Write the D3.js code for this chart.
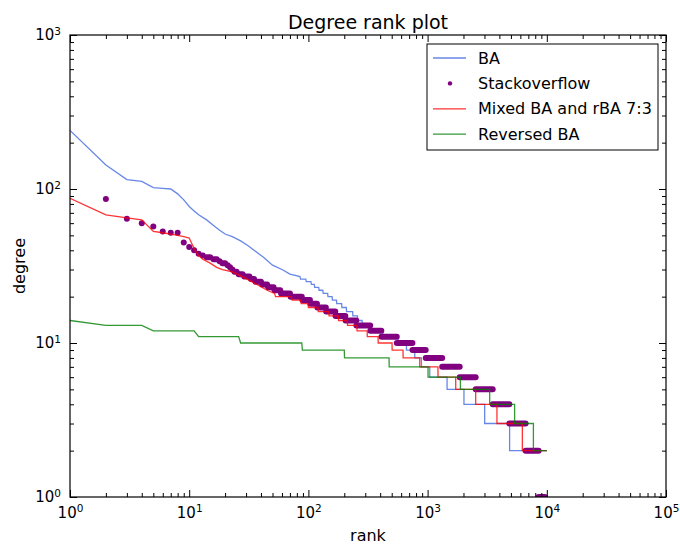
<!DOCTYPE html>
<html>
<head>
<meta charset="utf-8">
<script src="https://cdn.jsdelivr.net/npm/d3@7"></script>
<style>
  body { margin: 0; background: #fff; }
  svg { display: block; font-family: "DejaVu Sans", sans-serif; }
</style>
</head>
<body>
<svg id="canvas" width="680" height="546"></svg>
<script>
// BA: curved head then one step per integer degree
const baHeadRank = [1, 2, 3, 4, 5, 6, 7, 8, 9, 10, 11, 12, 14, 16, 18, 20, 23, 27, 31, 35, 42, 50, 60, 70, 85];
const baHeadDeg = [240, 143, 115, 112, 102, 101, 100, 93, 85, 77, 72, 68, 63, 58, 54, 51, 49, 46, 43, 40, 36, 32, 30, 28, 27];
const baStepDeg = [26, 25, 24, 23, 22, 21, 20, 19, 18, 17, 16, 15, 14, 13, 12, 11, 10, 9, 8, 7, 6, 5, 4, 3, 2];
const baStepEnd = [95, 105, 112, 122, 132, 145, 158, 172, 190, 208, 235, 258, 282, 320, 420, 565, 664, 780, 887, 1042, 1456, 2018, 3011, 4876, 10000];

// Mixed BA and rBA 7:3
const mixHeadRank = [1, 2, 3, 4, 5, 6, 7, 8, 9, 10, 11, 12, 13, 15, 17, 19, 23, 28, 37, 45, 52];
const mixHeadDeg = [87, 68, 65, 63, 53, 52, 51, 50, 49, 48, 41, 37, 35, 33, 31, 30, 29, 27, 24, 22, 21];
const mixStepDeg = [20, 19, 18, 17, 16, 15, 14, 13, 12, 11, 10, 9, 8, 7, 6, 5, 4, 3, 2];
const mixStepEnd = [72, 86, 99, 120, 148, 178, 212, 255, 311, 384, 503, 622, 859, 1222, 1721, 2531, 3817, 6236, 10000];

// Reversed BA
const revStepDeg = [14, 13, 12, 11, 10, 9, 8, 7, 6, 5, 4, 3, 2];
const revStepEnd = [1, 4, 11, 26, 88, 200, 475, 1008, 1884, 3317, 5370, 7720, 10000];

// Stackoverflow: runs of equal degree, first run starts at rank 2
const soDeg = [86, 64, 60, 57, 53, 52, 52, 45, 42, 40, 38, 37, 36, 35, 34, 33, 32, 31, 30, 29,
  28, 27, 26, 25, 24, 23, 22, 21, 20, 19, 18, 17, 16, 15, 14, 13, 12, 11, 10, 9,
  8, 7, 6, 5, 4, 3, 2, 1];
const soEnd = [2, 3, 4, 5, 6, 7, 8, 9, 10, 11, 12, 13, 15, 17, 18, 20, 21, 22, 23, 25,
  28, 32, 35, 40, 45, 51, 58, 70, 88, 103, 118, 140, 168, 204, 252, 330, 409, 551, 746, 964,
  1325, 1858, 2530, 3516, 4850, 6638, 8536, 9640];
const soStart = 2;

const legendNames = ["BA", "Stackoverflow", "Mixed BA and rBA 7:3", "Reversed BA"];
const xTickExp = [0, 1, 2, 3, 4, 5];
const yTickExp = [0, 1, 2, 3];

const margin = { left: 70, right: 666, top: 35, bottom: 497 };

const canvas = d3.select("#canvas");

const x = d3.scaleLog().domain([1, 1e5]).range([margin.left, margin.right]);
const y = d3.scaleLog().domain([1, 1e3]).range([margin.bottom, margin.top]);

const stepPoints = (headRank, headDeg, stepDeg, stepEnd) => {
  const pts = headRank.map((r, i) => [r, headDeg[i]]);
  let start = headRank.length ? headRank[headRank.length - 1] + 1 : 1;
  stepDeg.forEach((d, i) => {
    pts.push([start, d]);
    pts.push([stepEnd[i], d]);
    start = stepEnd[i] + 1;
  });
  return pts;
};

const line = d3.line()
  .x((p) => x(p[0]))
  .y((p) => y(p[1]));

canvas.append("rect").attr("width", 680).attr("height", 546).attr("fill", "#fff");

canvas.append("clipPath").attr("id", "plotclip")
  .append("rect")
  .attr("x", margin.left).attr("y", margin.top)
  .attr("width", margin.right - margin.left)
  .attr("height", margin.bottom - margin.top);

const plot = canvas.append("g").attr("clip-path", "url(#plotclip)");

const drawLine = (pts, color) => {
  plot.append("path")
    .attr("d", line(pts))
    .attr("fill", "none")
    .attr("stroke", color)
    .attr("stroke-opacity", 0.8)
    .attr("stroke-width", 1.3);
};

drawLine(stepPoints(baHeadRank, baHeadDeg, baStepDeg, baStepEnd), "royalblue");

// stackoverflow runs
const soRuns = soDeg.map((d, i) => {
  const first = i === 0 ? soStart : soEnd[i - 1] + 1;
  return { deg: d, first: first, last: soEnd[i] };
});
const soGroup = plot.append("g").attr("fill", "purple").attr("stroke", "purple");
soGroup.selectAll("line")
  .data(soRuns.filter((r) => r.last > r.first))
  .enter()
  .append("line")
  .attr("x1", (r) => x(r.first))
  .attr("x2", (r) => x(r.last))
  .attr("y1", (r) => y(r.deg))
  .attr("y2", (r) => y(r.deg))
  .attr("stroke-width", 6)
  .attr("stroke-linecap", "round");
soGroup.selectAll("circle")
  .data(soRuns.filter((r) => r.last === r.first))
  .enter()
  .append("circle")
  .attr("cx", (r) => x(r.first))
  .attr("cy", (r) => y(r.deg))
  .attr("r", 3)
  .attr("stroke", "none");

drawLine(stepPoints(mixHeadRank, mixHeadDeg, mixStepDeg, mixStepEnd), "red");
drawLine(stepPoints([], [], revStepDeg, revStepEnd), "green");

// axes: ticks inside on all four sides
const majorX = xTickExp.map((e) => Math.pow(10, e));
const majorY = yTickExp.map((e) => Math.pow(10, e));
const minorX = x.ticks().filter((t) => !majorX.includes(t));
const minorY = y.ticks().filter((t) => !majorY.includes(t));

const supLabel = (sel) => {
  sel.each(function (d) {
    const t = d3.select(this);
    const e = Math.round(Math.log10(d));
    t.text("10");
    t.append("tspan").attr("dy", "-0.55em").attr("font-size", "10.5px").text(e);
  });
};

const addAxis = (axisFn, scale, tr, major, minor, labels, pad) => {
  const gMinor = canvas.append("g").attr("transform", tr)
    .call(axisFn(scale).tickValues(minor).tickSize(-4).tickSizeOuter(0).tickFormat(""));
  const gMajor = canvas.append("g").attr("transform", tr)
    .call(axisFn(scale).tickValues(major).tickSize(-7).tickSizeOuter(0).tickPadding(pad)
      .tickFormat(labels ? (d) => d : ""));
  [gMinor, gMajor].forEach((g) => {
    g.select(".domain").remove();
    g.selectAll("line").attr("stroke", "#000");
    g.attr("font-family", null).attr("font-size", null);
  });
  if (labels) {
    gMajor.selectAll("text")
      .attr("fill", "#000")
      .style("font-size", "15px")
      .call(supLabel);
  }
};

addAxis(d3.axisBottom, x, `translate(0,${margin.bottom})`, majorX, minorX, true, 10);
addAxis(d3.axisTop, x, `translate(0,${margin.top})`, majorX, minorX, false, 3);
addAxis(d3.axisLeft, y, `translate(${margin.left},0)`, majorY, minorY, true, 9);
addAxis(d3.axisRight, y, `translate(${margin.right},0)`, majorY, minorY, false, 3);

canvas.append("rect")
  .attr("x", margin.left).attr("y", margin.top)
  .attr("width", margin.right - margin.left)
  .attr("height", margin.bottom - margin.top)
  .attr("fill", "none")
  .attr("stroke", "#000")
  .attr("stroke-width", 1.2);

// titles
canvas.append("text")
  .attr("x", (margin.left + margin.right) / 2)
  .attr("y", 29)
  .attr("text-anchor", "middle")
  .style("font-size", "19px")
  .text("Degree rank plot");

canvas.append("text")
  .attr("x", (margin.left + margin.right) / 2)
  .attr("y", 541)
  .attr("text-anchor", "middle")
  .style("font-size", "16px")
  .text("rank");

canvas.append("text")
  .attr("transform", `translate(25,${(margin.top + margin.bottom) / 2}) rotate(-90)`)
  .attr("text-anchor", "middle")
  .style("font-size", "16px")
  .text("degree");

// legend
const legend = canvas.append("g");
legend.append("rect")
  .attr("x", 427).attr("y", 44)
  .attr("width", 231).attr("height", 106)
  .attr("fill", "#fff")
  .attr("stroke", "#000")
  .attr("stroke-width", 1);

const legendColors = ["royalblue", "purple", "red", "green"];
legendNames.forEach((name, i) => {
  const cy = 58 + i * 25.4;
  if (i === 1) {
    legend.append("circle").attr("cx", 450).attr("cy", cy).attr("r", 2.2).attr("fill", "purple");
  } else {
    legend.append("line")
      .attr("x1", 433).attr("x2", 466)
      .attr("y1", cy).attr("y2", cy)
      .attr("stroke", legendColors[i])
      .attr("stroke-opacity", 0.8)
      .attr("stroke-width", 1.3);
  }
  legend.append("text")
    .attr("x", 478)
    .attr("y", cy + 5.5)
    .style("font-size", "16px")
    .text(name);
});
</script>
</body>
</html>
